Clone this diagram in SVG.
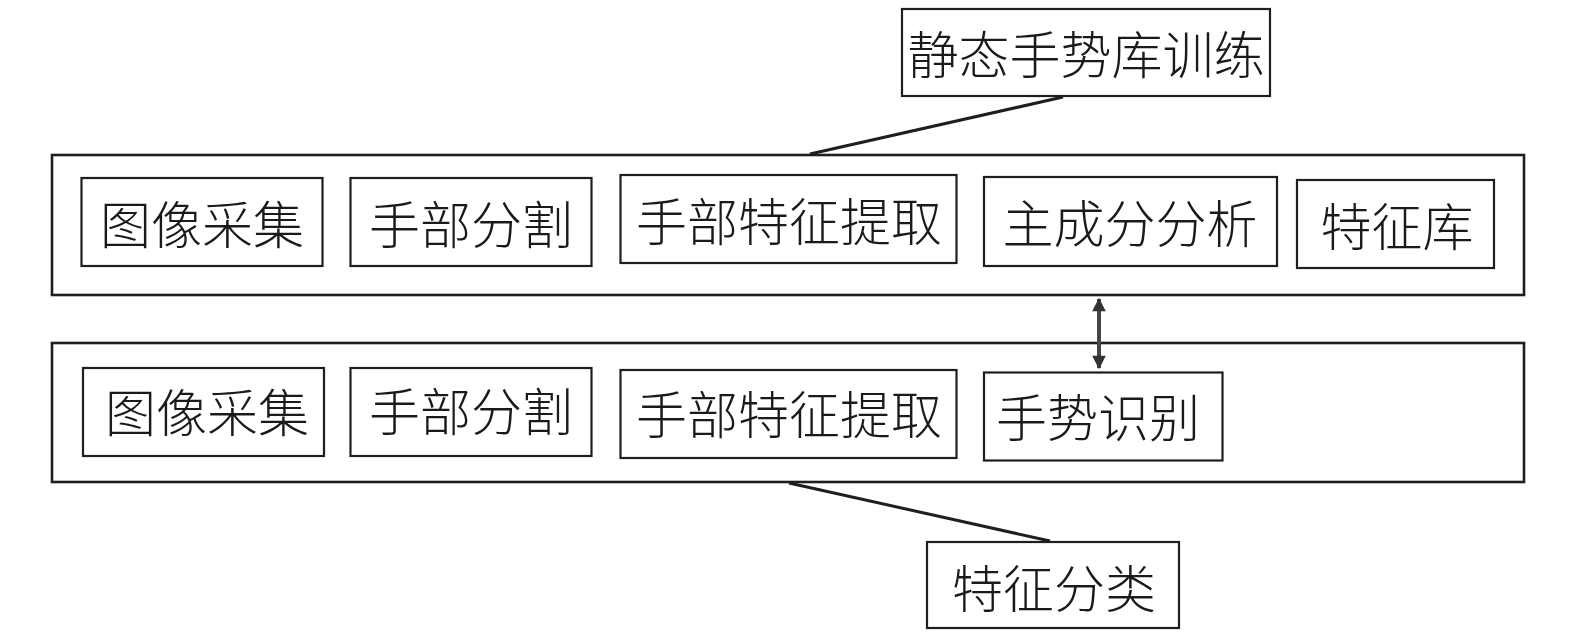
<svg xmlns="http://www.w3.org/2000/svg" width="1575" height="636" viewBox="0 0 1575 636">
<style>
.box{fill:#fff;stroke:#1e1e1e;stroke-width:2.2}
.outer{fill:none;stroke:#1e1e1e;stroke-width:2.6}
.t{font-family:"Noto Sans CJK SC","Noto Sans CJK TC",sans-serif;font-size:51px;font-weight:300;fill:#1a1a1a;text-anchor:middle;dominant-baseline:central}
.ln{stroke:#1e1e1e;stroke-width:3;fill:none}
</style>
<defs>
<marker id="ah" viewBox="0 0 10 10" refX="9" refY="5" markerWidth="4" markerHeight="3.4" orient="auto-start-reverse" markerUnits="strokeWidth">
<path d="M0,0 L10,5 L0,10 z" fill="#333"/>
</marker>
</defs>
<rect width="1575" height="636" fill="#fff"/>
<g id="outer-train"><rect class="outer" x="52" y="155" width="1472" height="140"/></g>
<g id="outer-recog"><rect class="outer" x="52" y="343" width="1472" height="139"/></g>
<g id="connectors">
<line class="ln" x1="1063" y1="97" x2="810" y2="154"/>
<line class="ln" x1="789" y1="483" x2="1050" y2="541"/>
<line x1="1099" y1="299" x2="1099" y2="368" stroke="#444" stroke-width="4" marker-start="url(#ah)" marker-end="url(#ah)"/>
</g>
<g id="n-title"><rect class="box" x="902" y="9" width="368" height="87"/><text class="t" x="1086" y="52">静态手势库训练</text></g>
<g id="n-r1-1"><rect class="box" x="81.5" y="178" width="241" height="88"/><text class="t" x="202" y="222">图像采集</text></g>
<g id="n-r1-2"><rect class="box" x="350.5" y="178" width="241" height="88"/><text class="t" x="471" y="222">手部分割</text></g>
<g id="n-r1-3"><rect class="box" x="620.5" y="175" width="336" height="88"/><text class="t" x="789" y="219">手部特征提取</text></g>
<g id="n-r1-4"><rect class="box" x="984" y="177" width="293" height="89"/><text class="t" x="1130" y="221">主成分分析</text></g>
<g id="n-r1-5"><rect class="box" x="1297" y="180" width="197" height="88"/><text class="t" x="1397" y="224">特征库</text></g>
<g id="n-r2-1"><rect class="box" x="83" y="368" width="241" height="88"/><text class="t" x="207" y="410">图像采集</text></g>
<g id="n-r2-2"><rect class="box" x="350.5" y="368" width="241" height="88"/><text class="t" x="471" y="409">手部分割</text></g>
<g id="n-r2-3"><rect class="box" x="620.5" y="370" width="336" height="88"/><text class="t" x="789" y="412">手部特征提取</text></g>
<g id="n-r2-4"><rect class="box" x="984" y="372.5" width="238.5" height="88"/><text class="t" x="1098" y="415">手势识别</text></g>
<g id="n-class"><rect class="box" x="927" y="542" width="252" height="86"/><text class="t" x="1054" y="586">特征分类</text></g>
</svg>
